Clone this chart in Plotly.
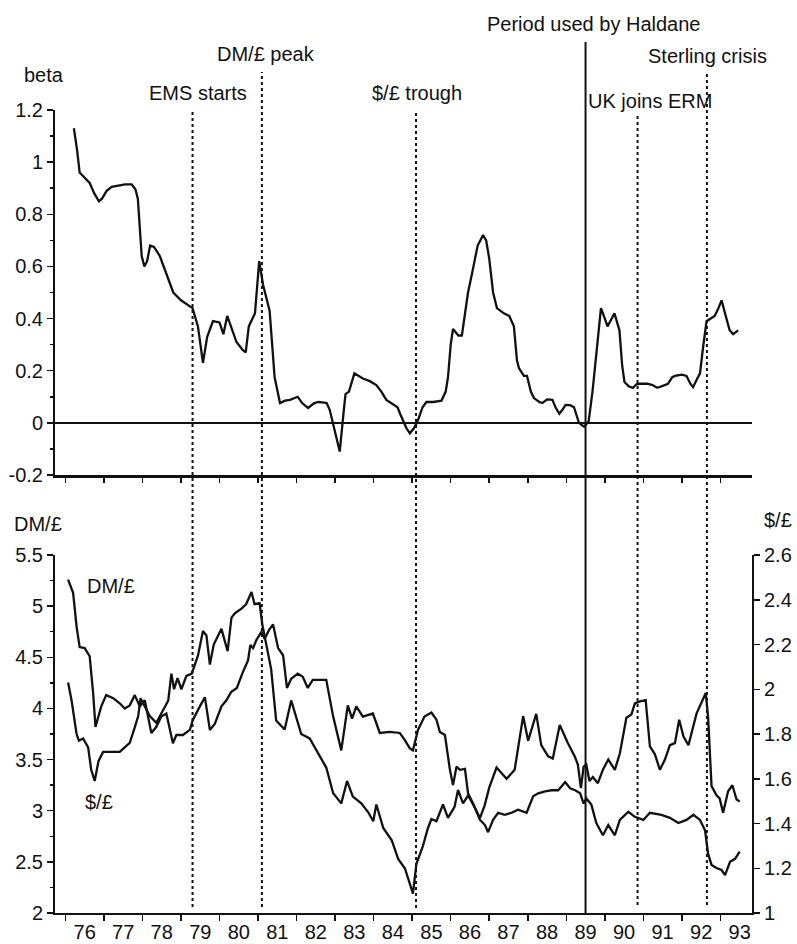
import plotly.graph_objects as go

# ---------------- data ----------------
beta_dates = [1976.22, 1976.30, 1976.37, 1976.50, 1976.63, 1976.75, 1976.87, 1976.95, 1977.07, 1977.20,
              1977.35, 1977.55, 1977.72, 1977.82, 1977.88, 1977.93, 1977.98, 1978.05, 1978.12, 1978.20,
              1978.30, 1978.45, 1978.63, 1978.80, 1979.00, 1979.15, 1979.30, 1979.44, 1979.57, 1979.68,
              1979.83, 1980.00, 1980.10, 1980.20, 1980.30, 1980.44, 1980.60, 1980.68, 1980.76, 1980.92,
              1981.03, 1981.13, 1981.30, 1981.43, 1981.57, 1981.70, 1981.83, 1982.03, 1982.15, 1982.30,
              1982.45, 1982.56, 1982.72, 1982.78, 1982.86, 1983.00, 1983.12, 1983.22, 1983.27, 1983.36,
              1983.50, 1983.72, 1983.90, 1984.07, 1984.20, 1984.33, 1984.50, 1984.62, 1984.70, 1984.85,
              1984.94, 1985.05, 1985.15, 1985.27, 1985.37, 1985.55, 1985.76, 1985.87, 1985.93, 1986.00,
              1986.06, 1986.20, 1986.29, 1986.45, 1986.55, 1986.70, 1986.84, 1986.92, 1987.00, 1987.10,
              1987.20, 1987.38, 1987.52, 1987.64, 1987.72, 1987.77, 1987.90, 1987.98, 1988.08, 1988.16,
              1988.30, 1988.38, 1988.50, 1988.64, 1988.72, 1988.82, 1988.90, 1988.98, 1989.10, 1989.20,
              1989.33, 1989.46, 1989.58, 1989.68, 1989.77, 1989.90, 1990.00, 1990.07, 1990.18, 1990.25,
              1990.38, 1990.45, 1990.51, 1990.62, 1990.73, 1990.82, 1990.90, 1991.10, 1991.24, 1991.35,
              1991.42, 1991.55, 1991.64, 1991.75, 1991.82, 1992.00, 1992.12, 1992.22, 1992.29, 1992.40,
              1992.47, 1992.55, 1992.64, 1992.75, 1992.85, 1992.95, 1993.03, 1993.12, 1993.24, 1993.33,
              1993.46]
beta_vals = [1.13, 1.05, 0.96, 0.94, 0.92, 0.88, 0.85, 0.86, 0.89, 0.905,
             0.91, 0.915, 0.915, 0.895, 0.86, 0.75, 0.64, 0.60, 0.62, 0.68,
             0.675, 0.64, 0.57, 0.50, 0.47, 0.455, 0.44, 0.37, 0.23, 0.33,
             0.39, 0.385, 0.34, 0.41, 0.37, 0.31, 0.28, 0.27, 0.37, 0.42,
             0.62, 0.53, 0.43, 0.175, 0.076, 0.085, 0.088, 0.10, 0.075, 0.057,
             0.075, 0.08, 0.078, 0.076, 0.05, -0.03, -0.11, 0.04, 0.11, 0.12,
             0.19, 0.17, 0.16, 0.145, 0.12, 0.088, 0.07, 0.06, 0.03, -0.02,
             -0.04, -0.02, 0.01, 0.06, 0.08, 0.08, 0.085, 0.12, 0.175, 0.30,
             0.36, 0.335, 0.335, 0.50, 0.57, 0.68, 0.72, 0.70, 0.63, 0.50,
             0.44, 0.42, 0.41, 0.37, 0.24, 0.21, 0.18, 0.18, 0.12, 0.095,
             0.08, 0.076, 0.09, 0.088, 0.06, 0.035, 0.05, 0.069, 0.068, 0.06,
             0.0, -0.015, 0.005, 0.12, 0.25, 0.44, 0.40, 0.37, 0.40, 0.42,
             0.355, 0.22, 0.157, 0.14, 0.134, 0.148, 0.15, 0.15, 0.145, 0.135,
             0.137, 0.145, 0.15, 0.175, 0.18, 0.185, 0.18, 0.15, 0.137, 0.17,
             0.19, 0.29, 0.39, 0.40, 0.41, 0.44, 0.47, 0.42, 0.355, 0.34,
             0.355]

dm_dates = [1976.07, 1976.20, 1976.29, 1976.37, 1976.50, 1976.63, 1976.72, 1976.78, 1976.93, 1977.06,
            1977.24, 1977.41, 1977.54, 1977.67, 1977.80, 1977.93, 1978.06, 1978.23, 1978.36, 1978.49,
            1978.62, 1978.79, 1978.88, 1979.05, 1979.23, 1979.31, 1979.49, 1979.62, 1979.75, 1979.88,
            1980.05, 1980.18, 1980.30, 1980.45, 1980.60, 1980.74, 1980.80, 1980.87, 1980.96, 1981.09,
            1981.17, 1981.29, 1981.39, 1981.52, 1981.65, 1981.75, 1981.86, 1982.03, 1982.16, 1982.29,
            1982.42, 1982.77, 1982.95, 1983.16, 1983.33, 1983.44, 1983.55, 1983.72, 1983.98, 1984.16,
            1984.42, 1984.68, 1984.81, 1984.94, 1985.02, 1985.15, 1985.32, 1985.50, 1985.63, 1985.72,
            1985.85, 1985.98, 1986.06, 1986.15, 1986.24, 1986.37, 1986.45, 1986.58, 1986.76, 1986.89,
            1986.97, 1987.10, 1987.23, 1987.40, 1987.58, 1987.75, 1987.97, 1988.14, 1988.27, 1988.45,
            1988.62, 1988.79, 1988.88, 1988.97, 1989.10, 1989.23, 1989.36, 1989.45, 1989.52, 1989.65,
            1989.78, 1989.95, 1990.09, 1990.26, 1990.39, 1990.61, 1990.78, 1991.00, 1991.17, 1991.47,
            1991.69, 1991.91, 1992.12, 1992.30, 1992.47, 1992.60, 1992.68, 1992.77, 1992.90, 1993.03,
            1993.12, 1993.25, 1993.38, 1993.50]
dm_vals = [5.26, 5.13, 4.80, 4.60, 4.59, 4.51, 4.15, 3.82, 4.02, 4.13,
           4.10, 4.05, 4.00, 4.03, 4.13, 4.02, 4.08, 3.76, 3.82, 3.92,
           3.95, 3.66, 3.74, 3.74, 3.79, 3.89, 4.02, 4.11, 3.79, 3.85,
           4.02, 4.08, 4.16, 4.20, 4.35, 4.47, 4.62, 4.59, 4.67, 4.75,
           4.68, 4.77, 4.82, 4.59, 4.52, 4.20, 4.29, 4.34, 4.31, 4.20,
           4.28, 4.28, 3.92, 3.59, 4.03, 3.90, 4.02, 3.92, 3.95, 3.76,
           3.77, 3.76, 3.69, 3.61, 3.59, 3.79, 3.92, 3.96, 3.89, 3.77,
           3.74, 3.40, 3.25, 3.43, 3.40, 3.41, 3.17, 3.07, 2.91, 2.86,
           2.79, 2.91, 2.98, 2.96, 2.98, 3.01, 2.98, 3.14, 3.17, 3.19,
           3.20, 3.20, 3.24, 3.28, 3.22, 3.20, 3.17, 3.07, 3.12, 3.06,
           2.88, 2.76, 2.86, 2.76, 2.91, 2.99, 2.94, 2.91, 2.98, 2.96,
           2.93, 2.88, 2.91, 2.96, 2.91, 2.81, 2.58, 2.47, 2.44, 2.42,
           2.37, 2.50, 2.53, 2.60]

usd_dates = [1976.07, 1976.16, 1976.29, 1976.35, 1976.46, 1976.59, 1976.67, 1976.76, 1976.86, 1976.98,
             1977.19, 1977.41, 1977.54, 1977.67, 1977.80, 1977.89, 1977.95, 1978.06, 1978.19, 1978.36,
             1978.49, 1978.67, 1978.75, 1978.82, 1978.91, 1979.01, 1979.14, 1979.28, 1979.44, 1979.57,
             1979.66, 1979.75, 1979.85, 1980.05, 1980.21, 1980.31, 1980.40, 1980.57, 1980.69, 1980.83,
             1980.91, 1981.04, 1981.11, 1981.21, 1981.34, 1981.47, 1981.69, 1981.86, 1981.99, 1982.12,
             1982.34, 1982.51, 1982.77, 1982.95, 1983.16, 1983.31, 1983.46, 1983.68, 1983.86, 1983.99,
             1984.07, 1984.25, 1984.47, 1984.64, 1984.81, 1984.94, 1985.02, 1985.11, 1985.28, 1985.41,
             1985.50, 1985.63, 1985.80, 1985.93, 1986.10, 1986.19, 1986.32, 1986.45, 1986.60, 1986.76,
             1986.88, 1987.00, 1987.19, 1987.45, 1987.66, 1987.88, 1988.01, 1988.22, 1988.35, 1988.53,
             1988.65, 1988.83, 1989.04, 1989.22, 1989.30, 1989.38, 1989.45, 1989.52, 1989.60, 1989.69,
             1989.82, 1989.95, 1990.09, 1990.26, 1990.39, 1990.56, 1990.69, 1990.78, 1990.91, 1991.06,
             1991.17, 1991.30, 1991.43, 1991.56, 1991.69, 1991.82, 1991.93, 1992.04, 1992.17, 1992.38,
             1992.51, 1992.62, 1992.68, 1992.77, 1992.90, 1992.98, 1993.07, 1993.20, 1993.31, 1993.42,
             1993.50]
usd_vals = [2.03, 1.95, 1.80, 1.77, 1.78, 1.74, 1.64, 1.59, 1.68, 1.72,
            1.72, 1.72, 1.74, 1.76, 1.83, 1.88, 1.96, 1.92, 1.88, 1.85,
            1.89, 1.95, 2.07, 2.00, 2.05, 2.00, 2.06, 2.07, 2.15, 2.26,
            2.24, 2.11, 2.20, 2.27, 2.17, 2.32, 2.34, 2.36, 2.38, 2.435,
            2.38, 2.385, 2.29, 2.21, 2.09, 1.86, 1.82, 1.95, 1.88, 1.80,
            1.78, 1.73, 1.65, 1.535, 1.49, 1.59, 1.52, 1.49, 1.45, 1.41,
            1.485, 1.38, 1.325, 1.24, 1.20, 1.13, 1.087, 1.22, 1.30, 1.38,
            1.42, 1.41, 1.485, 1.425, 1.475, 1.55, 1.49, 1.525, 1.48, 1.425,
            1.48, 1.56, 1.65, 1.60, 1.64, 1.88, 1.77, 1.89, 1.75, 1.70,
            1.69, 1.84, 1.76, 1.70, 1.663, 1.558, 1.654, 1.663, 1.59, 1.608,
            1.58, 1.64, 1.686, 1.64, 1.713, 1.873, 1.887, 1.937, 1.946, 1.951,
            1.745, 1.709, 1.64, 1.686, 1.75, 1.759, 1.864, 1.79, 1.75, 1.891,
            1.937, 1.983, 1.878, 1.567, 1.526, 1.512, 1.448, 1.544, 1.571, 1.507,
            1.498]

event_labels = ["EMS starts", "DM/£ peak", "$/£ trough", "Period used by Haldane",
                "UK joins ERM", "Sterling crisis"]
event_dates = [1979.3, 1981.1, 1985.1, 1989.5, 1990.85, 1992.65]

year_starts = list(range(1976, 1994))
year_labels = [str(y)[2:] for y in range(1976, 1994)]

beta_ticks = [-0.2, 0, 0.2, 0.4, 0.6, 0.8, 1, 1.2]
beta_ticktext = ["-0.2", "0", "0.2", "0.4", "0.6", "0.8", "1", "1.2"]

# ---------------- layout helpers (pixel -> paper) ----------------
W, H = 797, 944
ML, MR, MT, MB = 55, 45, 110, 31
PW, PH = W - ML - MR, H - MT - MB


def px(x):
    return (x - ML) / PW


def py(y):
    return (H - MB - y) / PH


FONT = "Liberation Sans, Arial, Helvetica, sans-serif"
FS = 20
INK = "#111111"

fig = go.Figure()
fig.add_trace(go.Scatter(x=beta_dates, y=beta_vals, mode="lines", xaxis="x2", yaxis="y2",
                         line=dict(color=INK, width=2.3), showlegend=False, hoverinfo="skip"))
fig.add_trace(go.Scatter(x=dm_dates, y=dm_vals, mode="lines", xaxis="x", yaxis="y",
                         line=dict(color=INK, width=2.3), showlegend=False, hoverinfo="skip"))
fig.add_trace(go.Scatter(x=usd_dates, y=usd_vals, mode="lines", xaxis="x", yaxis="y3",
                         line=dict(color=INK, width=2.3), showlegend=False, hoverinfo="skip"))

top_dom0 = py(475)
bot_dom1 = py(555)

axis_common = dict(showline=True, linecolor=INK, linewidth=2, showgrid=False, zeroline=False,
                   automargin=False,
                   tickcolor=INK, tickfont=dict(family=FONT, size=FS, color=INK))

fig.update_layout(
    template="none",
    width=W, height=H,
    margin=dict(l=ML, r=MR, t=MT, b=MB, pad=0, autoexpand=False),
    paper_bgcolor="white", plot_bgcolor="white",
    font=dict(family=FONT, size=FS, color=INK),
    xaxis=dict(domain=[0, 1], range=[1975.73, 1993.82], anchor="y",
               tickmode="array", tickvals=[y + 0.5 for y in year_starts], ticktext=year_labels,
               ticks="", ticklabelstandoff=0,
               minor=dict(tickmode="array", tickvals=year_starts, ticks="outside", ticklen=6,
                          tickwidth=1.5, tickcolor=INK, showgrid=False),
               **axis_common),
    xaxis2=dict(domain=[0, 1], matches="x", anchor="y2", showticklabels=False,
                tickmode="array", tickvals=year_starts, ticks="outside", ticklen=5, tickwidth=1.5,
                showline=True, linecolor=INK, linewidth=3, showgrid=False, zeroline=False,
                automargin=False, tickcolor=INK),
    yaxis=dict(domain=[0, bot_dom1], range=[2, 5.5], anchor="x",
               tickmode="linear", tick0=2, dtick=0.5, ticks="outside", ticklen=6, tickwidth=1.5,
               minor=dict(tick0=2, dtick=0.25, ticks="outside", ticklen=3, tickcolor=INK, showgrid=False),
               **axis_common),
    yaxis3=dict(overlaying="y", side="right", anchor="x", range=[1, 2.6],
                tickmode="linear", tick0=1, dtick=0.2, ticks="outside", ticklen=6, tickwidth=1.5,
                **axis_common),
    yaxis2=dict(domain=[top_dom0, 1], range=[-0.2, 1.2], anchor="x2",
                tickmode="array", tickvals=beta_ticks, ticktext=beta_ticktext,
                ticks="outside", ticklen=6, tickwidth=1.5,
                minor=dict(tickmode="array", tickvals=[-0.1, 0.1, 0.3, 0.5, 0.7, 0.9, 1.1],
                           ticks="outside", ticklen=3, tickcolor=INK, showgrid=False),
                showline=True, linecolor=INK, linewidth=2, showgrid=False,
                zeroline=True, zerolinecolor=INK, zerolinewidth=2.5, automargin=False,
                tickcolor=INK, tickfont=dict(family=FONT, size=FS, color=INK)),
)

# event lines
line_tops = [112, 72, 112, 42, 113, 73]
line_bottoms = [907, 907, 908, 913, 905, 905]
for d, top, bot, lab in zip(event_dates, line_tops, line_bottoms, event_labels):
    solid = lab.startswith("Period")
    fig.add_shape(type="line", xref="x", yref="paper", x0=d, x1=d, y0=py(bot), y1=py(top),
                  line=dict(color=INK, width=2, dash="solid" if solid else "dot"),
                  layer="above")

# event label positions (pixel centres)
label_pos = {"EMS starts": (198, 93), "DM/£ peak": (266, 54), "$/£ trough": (417, 93),
             "Period used by Haldane": (593, 24), "UK joins ERM": (650, 101),
             "Sterling crisis": (707, 56)}
for lab in event_labels:
    cx, cy = label_pos[lab]
    fig.add_annotation(text=lab, xref="paper", yref="paper", x=px(cx), y=py(cy),
                       xanchor="center", yanchor="middle", showarrow=False,
                       font=dict(family=FONT, size=FS, color=INK))

# axis titles and series labels
texts = [("beta", 22, 75, "left"), ("DM/£", 12, 524, "left"), ("$/£", 762, 520, "left"),
         ("DM/£", 85, 586, "left"), ("$/£", 83, 802, "left")]
for t, x, y, anc in texts:
    fig.add_annotation(text=t, xref="paper", yref="paper", x=px(x), y=py(y),
                       xanchor=anc, yanchor="middle", showarrow=False,
                       font=dict(family=FONT, size=FS, color=INK))

fig.write_html("out.html", config={"displayModeBar": False, "staticPlot": True},
               post_script="document.body.style.margin='0';document.body.style.overflow='hidden';")
